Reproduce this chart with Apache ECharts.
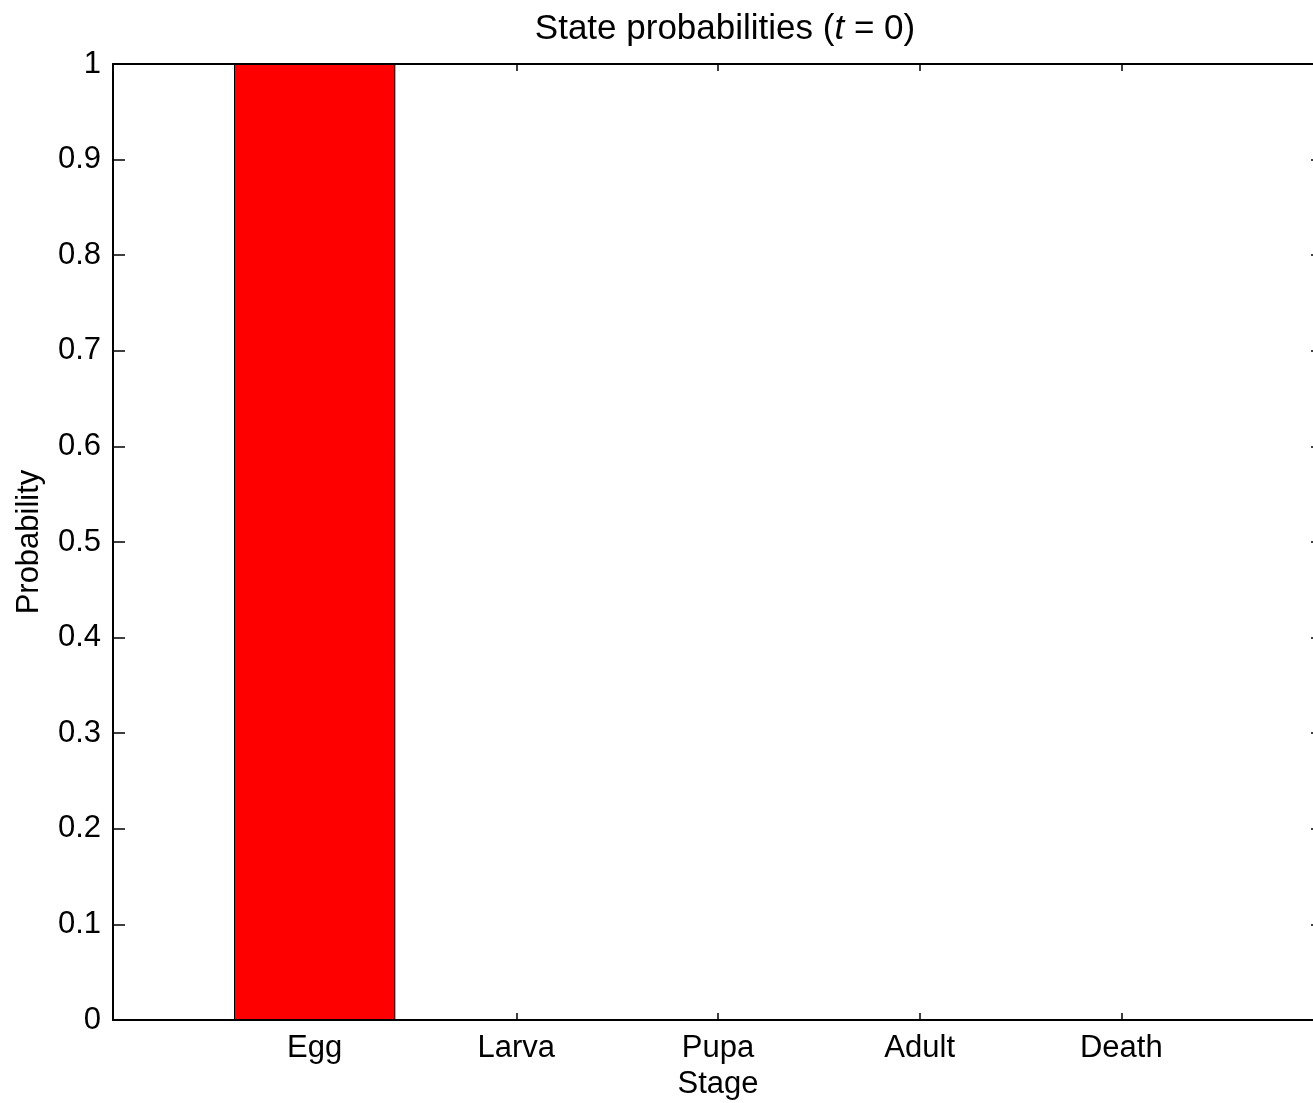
<!DOCTYPE html>
<html><head><meta charset="utf-8">
<script src="https://cdn.jsdelivr.net/npm/echarts@6/dist/echarts.min.js"></script>
<style>html,body{margin:0;padding:0;background:#fff}#c{width:1313px;height:1103px}</style>
</head><body><div id="c"></div>
<script>
const categories = ['Egg', 'Larva', 'Pupa', 'Adult', 'Death'];
const probabilities = [1, 0, 0, 0, 0];
const yTicks = [0, 0.1, 0.2, 0.3, 0.4, 0.5, 0.6, 0.7, 0.8, 0.9, 1];

const FONT = 'Liberation Sans, Arial, sans-serif';
const chart = echarts.init(document.getElementById('c'), null, {renderer: 'canvas'});
const barData = categories.map((c, i) => [i + 1, probabilities[i]]);
const unitPx = 1210 / (categories.length + 1);

chart.setOption({
  animation: false,
  backgroundColor: '#fff',
  title: {
    text: 'State probabilities ({i|t} = 0)',
    left: 720, top: 7, textAlign: 'center',
    textStyle: {
      fontFamily: FONT, fontSize: 35, fontWeight: 'normal', color: '#000',
      rich: { i: { fontFamily: FONT, fontSize: 35, fontStyle: 'italic', color: '#000' } }
    }
  },
  grid: { left: 113, top: 64, width: 1210, height: 956, outerBoundsMode: 'none', containLabel: false },
  xAxis: [{
    type: 'value', min: 0, max: categories.length + 1, interval: 1,
    position: 'bottom',
    name: 'Stage', nameLocation: 'middle', nameGap: 47,
    nameTextStyle: { fontFamily: FONT, fontSize: 31, color: '#000' },
    axisLine: { show: true, onZero: false, lineStyle: { color: '#000', width: 2 } },
    axisTick: { show: true, inside: true, length: 7, lineStyle: { color: '#000', width: 1.5 },
      customValues: categories.map((c, i) => i + 1) },
    axisLabel: { fontFamily: FONT, fontSize: 31, color: '#000', margin: 13,
      customValues: categories.map((c, i) => i + 1),
      formatter: v => categories[v - 1] || '' },
    splitLine: { show: false }
  }, {
    type: 'value', min: 0, max: categories.length + 1, interval: 1,
    position: 'top',
    axisLine: { show: true, onZero: false, lineStyle: { color: '#000', width: 2 } },
    axisTick: { show: true, inside: true, length: 7, lineStyle: { color: '#000', width: 1.5 },
      customValues: categories.map((c, i) => i + 1) },
    axisLabel: { show: false },
    splitLine: { show: false }
  }],
  yAxis: [{
    type: 'value', min: 0, max: 1, interval: 0.1,
    position: 'left',
    name: 'Probability', nameLocation: 'middle', nameGap: 68, nameRotate: 90,
    nameTextStyle: { fontFamily: FONT, fontSize: 31, color: '#000' },
    axisLine: { show: true, onZero: false, lineStyle: { color: '#000', width: 2 } },
    axisTick: { show: true, inside: true, length: 12, lineStyle: { color: '#000', width: 1.5 } },
    axisLabel: { fontFamily: FONT, fontSize: 31, color: '#000', margin: 12,
      formatter: v => { const t = yTicks.find(x => Math.abs(x - v) < 1e-9); return t === undefined ? '' : String(t); } },
    splitLine: { show: false }
  }, {
    type: 'value', min: 0, max: 1, interval: 0.1,
    position: 'right',
    axisLine: { show: true, onZero: false, lineStyle: { color: '#000', width: 2 } },
    axisTick: { show: true, inside: true, length: 12, lineStyle: { color: '#000', width: 1.5 } },
    axisLabel: { show: false },
    splitLine: { show: false }
  }],
  series: [{
    type: 'bar', xAxisIndex: 0, yAxisIndex: 0,
    data: barData,
    barWidth: unitPx * 0.8,
    itemStyle: { color: '#ff0000', borderColor: '#000', borderWidth: 1 }
  }]
});
</script></body></html>
